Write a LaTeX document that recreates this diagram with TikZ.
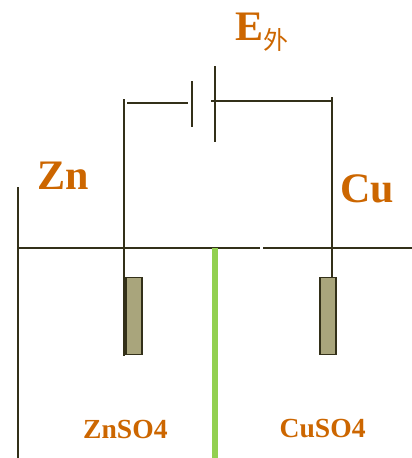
\documentclass[tikz,border=0pt]{standalone}
\usepackage{fontspec}
\setmainfont{Liberation Serif}
\newfontfamily\cjk{Noto Sans CJK SC}
\definecolor{wirecolor}{HTML}{333019}
\definecolor{labelcolor}{HTML}{CC6600}
\definecolor{platecolor}{HTML}{A9A57C}
\definecolor{saltbridge}{HTML}{92D050}
\tikzset{
  wire/.style={draw=wirecolor,line width=2pt},
  electrode/.style={draw=wirecolor,line width=1.8pt,fill=platecolor,inner sep=0pt,minimum width=16pt,minimum height=77pt},
  biglabel/.style={text=labelcolor,font=\bfseries\fontsize{42}{42}\selectfont,inner sep=0pt,anchor=base west},
  saltlabel/.style={text=labelcolor,font=\bfseries\fontsize{27.6}{27.6}\selectfont,inner sep=0pt,anchor=base west}
}
\begin{document}
\begin{tikzpicture}[x=1pt,y=-1pt]
      \useasboundingbox (0,0) rectangle (412,458);
      \draw
        (18,187) coordinate (tanktop)
        (18,458) coordinate (tankbottom)
        (18,248) coordinate (levela)
        (260,248) coordinate (levelb)
        (263,248) coordinate (levelc)
        (412,248) coordinate (leveld)
        (215,248) coordinate (bridgetop)
        (215,458) coordinate (bridgebottom)
        (124,99) coordinate (zntop)
        (124,356) coordinate (znbottom)
        (127,103) coordinate (wirea)
        (188,103) coordinate (wireb)
        (192,81) coordinate (platea)
        (192,127) coordinate (plateb)
        (215,66) coordinate (platec)
        (215,142) coordinate (plated)
        (211,101) coordinate (wirec)
        (332,101) coordinate (wired)
        (332,97) coordinate (cutop);
      \node[electrode] (zn) at (134,316) {};
      \node[electrode] (cu) at (328,316) {};
      \begin{scope}[wire]
        \draw (tanktop) to (tankbottom);
        \draw (levela) to (levelb);
        \draw (levelc) to (leveld);
        \draw (zntop) to (znbottom);
        \draw (wirea) to (wireb);
        \draw (platea) to (plateb);
        \draw (platec) to (plated);
        \draw (wirec) to (wired);
        \draw (cutop) to (cutop |- cu.north);
      \end{scope}
      \draw[saltbridge,line width=6pt] (bridgetop) to (bridgebottom);
      \node[biglabel] (e) at (235,40) {E};
      \node[text=labelcolor,font=\cjk\fontsize{25}{25}\selectfont,inner sep=0pt,anchor=base west] (wai) at (263,49) {外};
      \node[biglabel] (znlabel) at (37.5,189) {Zn};
      \node[biglabel] (culabel) at (340,202) {Cu};
      \node[saltlabel] (znso) at (83,438) {ZnSO4};
      \node[saltlabel] (cuso) at (279.5,437) {CuSO4};
    \end{tikzpicture}
\end{document}
